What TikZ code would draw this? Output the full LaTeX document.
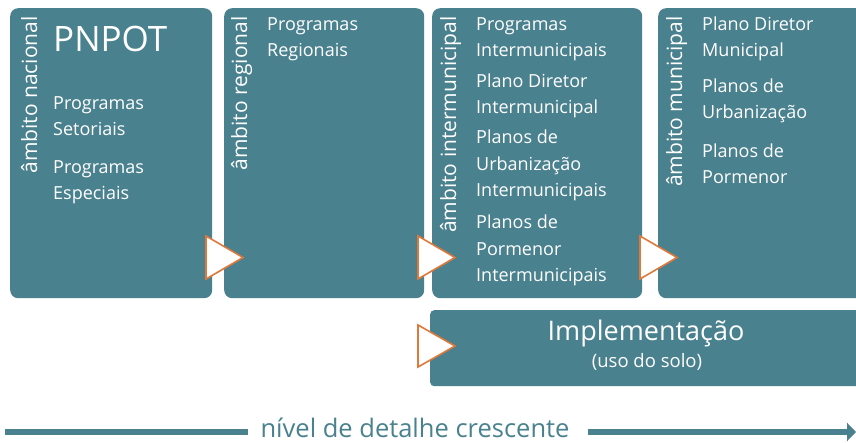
\documentclass[tikz,border=0pt]{standalone}
\usepackage{fontspec}
\setmainfont{Open Sans}
\usetikzlibrary{calc,arrows.meta}
\definecolor{petrol}{HTML}{4A818E}
\definecolor{laranja}{HTML}{E0783A}

\begin{document}
\begin{tikzpicture}[x=1pt,y=-1pt,
  box/.style={fill=petrol,rounded corners=8pt,inner sep=0pt,anchor=north west},
  txt/.style={text=white,font=\fontsize{18}{26.5}\selectfont,align=left,anchor=base west,inner sep=0pt},
  ambito/.style={text=white,font=\fontsize{21}{24}\selectfont,rotate=90,anchor=base east,inner sep=0pt},
  tri/.style={draw=laranja,fill=white,line width=1.6pt,line join=miter},
  eixo/.style={draw=petrol,line width=6.5pt}]
  \clip (0,0) rectangle (856,443);
  % caixas
  \node[box,minimum width=202,minimum height=290] (nacional) at (10,8) {};
  \node[box,minimum width=200,minimum height=290] (regional) at (224,8) {};
  \node[box,minimum width=210,minimum height=290] (inter) at (432,8) {};
  \node[box,minimum width=212,minimum height=290] (municipal) at (658,8) {};
  \node[box,rounded corners=4pt,minimum width=440,minimum height=76] (impl) at (430,310) {};
  % ambitos
  \node[ambito] (a1) at (37,16) {âmbito nacional};
  \node[ambito] (a2) at (247,16) {âmbito regional};
  \node[ambito] (a3) at (456,16) {âmbito intermunicipal};
  \node[ambito] (a4) at (682,16) {âmbito municipal};
  % textos (base = ultima linha)
  \node[txt,font=\fontsize{35}{40}\selectfont] (pnpot) at (53,52) {PNPOT};
  \node[txt] (t11) at (53,136) {Programas\\Setoriais};
  \node[txt] (t12) at (53,200) {Programas\\Especiais};
  \node[txt] (t21) at (267,57) {Programas\\Regionais};
  \node[txt] (t31) at (476,57) {Programas\\Intermunicipais};
  \node[txt] (t32) at (476,114) {Plano Diretor\\Intermunicipal};
  \node[txt] (t33) at (476,197) {Planos de\\Urbanização\\Intermunicipais};
  \node[txt] (t34) at (476,282) {Planos de\\Pormenor\\Intermunicipais};
  \node[txt] (t41) at (702,57) {Plano Diretor\\Municipal};
  \node[txt] (t42) at (702,119) {Planos de\\Urbanização};
  \node[txt] (t43) at (702,184) {Planos de\\Pormenor};
  \node[text=white,font=\fontsize{27}{30}\selectfont,anchor=base,inner sep=0pt] (implt) at (646,341) {Implementação};
  \node[text=white,font=\fontsize{18.5}{22}\selectfont,anchor=base,inner sep=0pt] (solo) at (647,367) {(uso do solo)};
  % setas
  \foreach \tx/\ty/\th in {206/236/43, 418/236/43, 640/236/43, 418/325/42}
    \draw[tri] (\tx,\ty) -- ++(0,\th) -- ++(37,-\th/2) -- cycle;
  % eixo
  \node[text=petrol,font=\fontsize{25.5}{28}\selectfont,anchor=base,inner sep=0pt,text depth=0pt] (nivel) at (415,437) {nível de detalhe crescente};
  \coordinate (e0) at (5,432);
  \coordinate (e1) at (856,432);
  \draw[eixo] (e0) -- ($(nivel.west |- e0)+(-12,0)$);
  \draw[eixo,-{Triangle[length=9pt,width=18pt]}] ($(nivel.east |- e0)+(18,0)$) -- (e1);
\end{tikzpicture}
\end{document}
